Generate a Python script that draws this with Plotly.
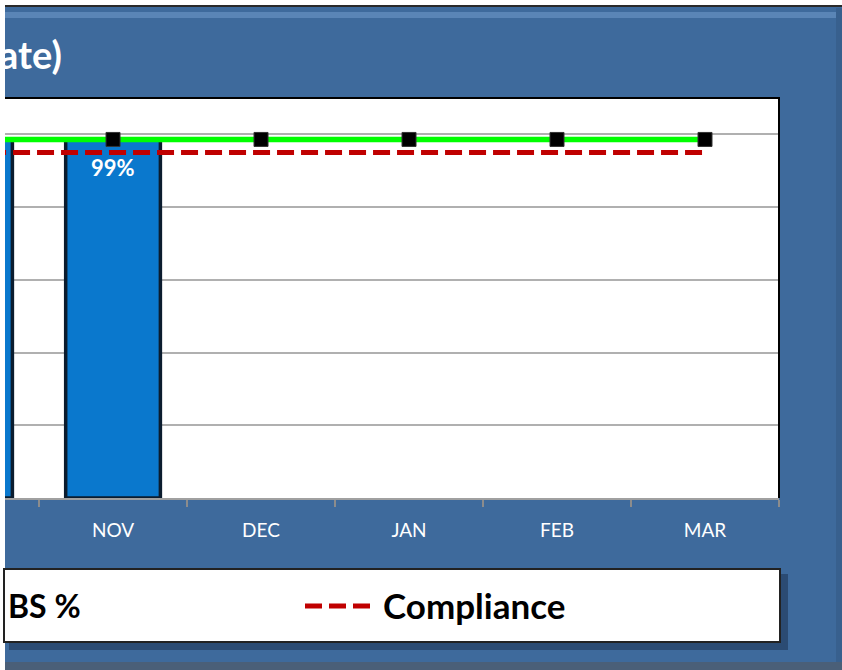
import plotly.graph_objects as go

W, H = 842, 670

# ---- data ----
months = ["OCT", "NOV", "DEC", "JAN", "FEB", "MAR"]
bar_months = ["OCT", "NOV"]
bs_pct = [98.7, 98.7]
target_line = [98.6, 98.6, 98.6, 98.6, 98.6, 98.6]
compliance = [95, 95, 95, 95, 95, 95]
title_text = "ate)"
legend_bar_label = "BS %"
legend_line_label = "Compliance"


def px(x):
    return x / W


def py(y):
    return 1 - y / H


FONT = "Lato"
fig = go.Figure()

fig.add_trace(go.Bar(
    x=bar_months, y=bs_pct,
    marker=dict(color="#0A78CD", line=dict(color="#0B1C2E", width=3.5)),
    showlegend=False, hoverinfo="skip",
))
fig.add_trace(go.Scatter(
    x=months, y=compliance, mode="lines",
    line=dict(color="#C00000", width=5, dash="17px,7px"),
    showlegend=False, hoverinfo="skip",
))
fig.add_trace(go.Scatter(
    x=months, y=target_line, mode="lines+markers",
    line=dict(color="#00FF00", width=5.5),
    marker=dict(symbol="square", size=14, color="black", line=dict(color="#333", width=1)),
    showlegend=False, hoverinfo="skip",
))

annotations = []
for m, v in zip(bar_months, bs_pct):
    annotations.append(dict(
        x=m, y=v, xref="x", yref="y", yshift=-28, showarrow=False,
        text=f"<b>{v:.0f}%</b>", font=dict(family=FONT, size=22, color="white"),
    ))

annotations.append(dict(
    x=px(64), y=py(54), xref="paper", yref="paper", xanchor="right", yanchor="middle",
    showarrow=False, text=f"<b>{title_text}</b>",
    font=dict(family=FONT, size=38, color="white"),
))
annotations.append(dict(
    x=px(6), y=py(605), xref="paper", yref="paper", xanchor="left", yanchor="middle",
    showarrow=False, text=f"<b>{legend_bar_label}</b>",
    font=dict(family=FONT, size=32, color="black"),
))
annotations.append(dict(
    x=px(381), y=py(605), xref="paper", yref="paper", xanchor="left", yanchor="middle",
    showarrow=False, text=f"<b>{legend_line_label}</b>",
    font=dict(family=FONT, size=35, color="black"),
))

shapes = [
    # blue panel
    dict(type="rect", xref="paper", yref="paper", x0=px(5), x1=1, y0=0, y1=py(5),
         fillcolor="#3E6A9C", line=dict(width=0), layer="below"),
    dict(type="rect", xref="paper", yref="paper", x0=px(836), x1=1, y0=0, y1=py(8),
         fillcolor="#38608E", line=dict(width=0), layer="below"),
    dict(type="rect", xref="paper", yref="paper", x0=px(5), x1=1, y0=0, y1=py(662),
         fillcolor="#4A5F78", line=dict(width=0), layer="below"),
    dict(type="rect", xref="paper", yref="paper", x0=px(5), x1=1, y0=py(7), y1=py(5),
         fillcolor="#2A2A2A", line=dict(width=0), layer="below"),
    dict(type="rect", xref="paper", yref="paper", x0=px(5), x1=px(836), y0=py(18), y1=py(12),
         fillcolor="#6E97C8", line=dict(width=0), layer="below", opacity=0.6),
    # plot area
    dict(type="rect", xref="paper", yref="paper", x0=px(5), x1=px(779), y0=py(498), y1=py(98),
         fillcolor="white", line=dict(width=0), layer="below"),
    dict(type="line", xref="paper", yref="paper", x0=px(5), x1=px(780), y0=py(98), y1=py(98),
         line=dict(color="black", width=2)),
    dict(type="line", xref="paper", yref="paper", x0=px(779), x1=px(779), y0=py(98), y1=py(498),
         line=dict(color="black", width=2)),
    # legend box
    dict(type="rect", xref="paper", yref="paper", x0=px(9), x1=px(788), y0=py(650), y1=py(574),
         fillcolor="rgba(15,30,55,0.4)", line=dict(width=0), layer="below"),
    dict(type="rect", xref="paper", yref="paper", x0=px(4), x1=px(780), y0=py(642), y1=py(569),
         fillcolor="white", line=dict(color="#222", width=2), layer="below"),
    dict(type="line", xref="paper", yref="paper", x0=px(305), x1=px(371), y0=py(606), y1=py(606),
         line=dict(color="#C00000", width=5, dash="17px,7px")),
]

fig.update_layout(
    width=W, height=H,
    margin=dict(l=0, r=0, t=0, b=0),
    paper_bgcolor="white",
    plot_bgcolor="rgba(0,0,0,0)",
    bargap=0.36,
    showlegend=False,
    shapes=shapes,
    annotations=annotations,
    xaxis=dict(
        domain=[px(5), px(779)],
        type="category", categoryorder="array", categoryarray=months,
        range=[0.27, 5.5],
        showline=True, linecolor="#A0A0A0", linewidth=2,
        ticks="outside", tickson="boundaries", ticklen=7, tickwidth=2, tickcolor="#8C8C8C",
        tickfont=dict(family=FONT, size=19, color="white"),
        ticklabelstandoff=14,
        showgrid=False, fixedrange=True,
    ),
    yaxis=dict(
        domain=[py(498), py(98)],
        range=[0, 110], dtick=20, tick0=0,
        showgrid=True, gridcolor="#B0B0B0", gridwidth=2,
        zeroline=False, showticklabels=False, showline=False, fixedrange=True,
    ),
)

fig.write_html(
    "out.html",
    config={"displayModeBar": False},
    post_script="document.body.style.margin='0px';document.body.style.overflow='hidden';",
)
